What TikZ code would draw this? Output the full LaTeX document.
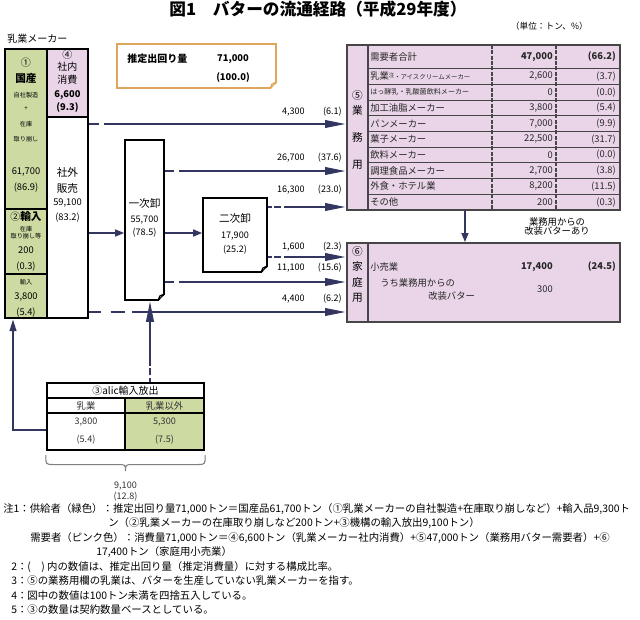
\documentclass[tikz,border=0pt]{standalone}
\usepackage{fontspec}
\setmainfont{Noto Sans CJK JP}
\usetikzlibrary{positioning, arrows.meta, calc, fit}

\definecolor{supgreen}{RGB}{205,219,163}
\definecolor{dempink}{RGB}{233,213,231}
\definecolor{flownavy}{RGB}{50,54,96}
\definecolor{noteorange}{RGB}{222,166,92}
\definecolor{rulegray}{RGB}{70,70,70}

\newcommand{\fsz}[1]{\fontsize{#1}{#1}\selectfont}
% folded corner at the south east of a box
\newcommand{\dogear}[2][black]{%
  \fill[white] ([xshift=-5pt,yshift=-1pt]#2.south east) -- ([xshift=1pt,yshift=-1pt]#2.south east) -- ([xshift=1pt,yshift=5pt]#2.south east) -- cycle;
  \draw[#1, line width=0.8pt, line join=round] ([xshift=-5pt]#2.south east) -- ([yshift=5pt]#2.south east) -- ([xshift=-3.5pt,yshift=3.5pt]#2.south east) -- cycle;
}

\begin{document}
\begin{tikzpicture}[x=0.75pt, y=-0.75pt,
  every node/.style={inner sep=0pt, font=\fsz{7}},
  cell/.style={inner sep=0pt, draw=black, line width=0.8pt},
  flow/.style={draw=flownavy, line width=2pt, -{Triangle[length=16pt,width=5.5pt]}},
  feed/.style={draw=flownavy, line width=1.8pt, -{Triangle[length=7pt,width=5pt]}},
  longlead/.style={dash pattern=on 7pt off 4pt on 400pt},
  shortlead/.style={dash pattern=on 3pt off 2pt on 5pt off 2pt on 400pt},
  tiny/.style={font=\fsz{4.6}},
  qty/.style={font=\fsz{6.8}},
  rowtxt/.style={anchor=west, font=\fsz{7}, text=black!85},
  rownum/.style={anchor=east, font=\fsz{7}, text=black!85},
  note/.style={anchor=west, font=\fsz{7.8}},
]
\useasboundingbox (0,0) rectangle (640,619);

% Title
\node[font=\fsz{12.5}\bfseries] (title) at (318,9) {図1　バターの流通経路（平成29年度）};
\node[font=\fsz{6.5}, anchor=east] (unit) at (588,26) {（単位：トン、\%）};
\node[font=\fsz{7.5}, anchor=west] (makerlbl) at (7,39) {乳業メーカー};

% Supplier column
\node[cell, fill=supgreen, fit={(5,49)(47,209)}] (dom) {};
\node[cell, fill=supgreen, fit={(5,209)(47,274)}] (imp) {};
\node[cell, fill=supgreen, fit={(5,274)(47,318)}] (impb) {};
\node[cell, fill=dempink, fit={(47,49)(88,117)}] (own) {};
\node[cell, fill=white, fit={(47,117)(88,318)}] (sale) {};
\node[draw, line width=1.8pt, fit={(5,49)(88,318)}] (supply) {};
\draw[line width=1.4pt] (dom.south west) -- (dom.south east);

\node[font=\fsz{7.5}] at (26,63) {①};
\node[font=\fsz{8}\bfseries] at (26,78) {国産};
\node[tiny] at (26,95) {自社製造};
\node[tiny] at (26,109) {+};
\node[tiny] at (26,124) {在庫};
\node[tiny] at (26,139) {取り崩し};
\node at (26,172) {61,700};
\node at (26,188) {(86.9)};

\node at (26,216) {{\fsz{7.5}②}{\fsz{8}\bfseries 輸入}};
\node[tiny] at (26,229) {在庫};
\node[tiny] at (26,236) {取り崩し等};
\node at (26,250) {200};
\node at (26,267) {(0.3)};
\node[tiny] at (26,282) {輸入};
\node at (26,297) {3,800};
\node at (26,313) {(5.4)};

\node[font=\fsz{7.5}] at (67.5,55) {④};
\node[font=\fsz{7.5}] at (67.5,67) {社内};
\node[font=\fsz{7.5}] at (67.5,80) {消費};
\node[font=\fsz{7}\bfseries] at (67.5,95) {6,600};
\node[font=\fsz{7}\bfseries] at (67.5,108) {(9.3)};

\node[font=\fsz{8}] at (67.5,172) {社外};
\node[font=\fsz{8}] at (67.5,188) {販売};
\node at (67.5,203) {59,100};
\node at (67.5,218) {(83.2)};

% Estimated total
\node[draw=noteorange, line width=0.9pt, fill=white, fit={(117,44)(276,88)}] (total) {};
\dogear[noteorange]{total}
\node[font=\fsz{7.5}\bfseries, anchor=west] at (127,59) {推定出回り量};
\node[font=\fsz{7}\bfseries] at (233,59) {71,000};
\node[font=\fsz{7}\bfseries] at (233,78) {(100.0)};

% Wholesalers
\node[cell, fill=white, fit={(125,140)(164,300)}] (first) {};
\dogear{first}
\node[font=\fsz{8}] at (144.5,203) {一次卸};
\node[qty] at (144.5,220) {55,700};
\node[qty] at (144.5,233) {(78.5)};

\node[cell, fill=white, fit={(203,198)(267,272)}] (second) {};
\dogear{second}
\node[font=\fsz{8}] at (235,218) {二次卸};
\node[qty] at (235,236) {17,900};
\node[qty] at (235,250) {(25.2)};

% Business users
\node[draw=rulegray, line width=1pt, fill=dempink, fit={(347,45)(620,210)}] (biz) {};
\draw[rulegray, line width=0.8pt] (368,45) -- (368,210);
\draw[rulegray, line width=0.8pt] (368,68.5) -- (620,68.5);
\draw[rulegray, line width=0.6pt] (368,84.2) -- (620,84.2);
\draw[rulegray, line width=0.6pt] (368,99.9) -- (620,99.9);
\draw[rulegray, line width=0.6pt] (368,115.7) -- (620,115.7);
\draw[rulegray, line width=0.6pt] (368,131.4) -- (620,131.4);
\draw[rulegray, line width=0.6pt] (368,147.1) -- (620,147.1);
\draw[rulegray, line width=0.6pt] (368,162.8) -- (620,162.8);
\draw[rulegray, line width=0.6pt] (368,178.6) -- (620,178.6);
\draw[rulegray, line width=0.6pt] (368,194.3) -- (620,194.3);
\draw[rulegray, line width=1pt, dash pattern=on 3pt off 1pt] (492,45) -- (492,210);
\draw[rulegray, line width=1pt, dash pattern=on 3pt off 1pt] (556,45) -- (556,210);

\node[font=\fsz{8}] at (357.5,95) {⑤};
\node[font=\fsz{8}] at (357.5,110) {業};
\node[font=\fsz{8}] at (357.5,137) {務};
\node[font=\fsz{8}] at (357.5,165) {用};

\node[rowtxt] at (370,56.7) {需要者合計};
\node[rownum, font=\fsz{7}\bfseries] at (553,56.7) {47,000};
\node[rownum, font=\fsz{7}\bfseries] at (616,56.7) {(66.2)};
\node[rowtxt] at (370,76.4) {乳業\raisebox{2pt}{\fsz{4}注}{\fsz{4.8}・アイスクリームメーカー}};
\node[rownum] at (553,76.4) {2,600};
\node[rownum] at (616,76.4) {(3.7)};
\node[rowtxt, font=\fsz{5.3}] at (370,92.1) {はっ酵乳・乳酸菌飲料メーカー};
\node[rownum] at (553,92.1) {0};
\node[rownum] at (616,92.1) {(0.0)};
\node[rowtxt] at (370,107.8) {加工油脂メーカー};
\node[rownum] at (553,107.8) {3,800};
\node[rownum] at (616,107.8) {(5.4)};
\node[rowtxt] at (370,123.5) {パンメーカー};
\node[rownum] at (553,123.5) {7,000};
\node[rownum] at (616,123.5) {(9.9)};
\node[rowtxt] at (370,139.3) {菓子メーカー};
\node[rownum] at (553,139.3) {22,500};
\node[rownum] at (616,139.3) {(31.7)};
\node[rowtxt] at (370,155.0) {飲料メーカー};
\node[rownum] at (553,155.0) {0};
\node[rownum] at (616,155.0) {(0.0)};
\node[rowtxt] at (370,170.7) {調理食品メーカー};
\node[rownum] at (553,170.7) {2,700};
\node[rownum] at (616,170.7) {(3.8)};
\node[rowtxt] at (370,186.4) {外食・ホテル業};
\node[rownum] at (553,186.4) {8,200};
\node[rownum] at (616,186.4) {(11.5)};
\node[rowtxt] at (370,202.1) {その他};
\node[rownum] at (553,202.1) {200};
\node[rownum] at (616,202.1) {(0.3)};

% Household use
\node[draw=rulegray, line width=1pt, fill=dempink, fit={(347,243)(620,322)}] (home) {};
\draw[rulegray, line width=0.8pt] (368,243) -- (368,322);
\node[font=\fsz{8}] at (357.5,251) {⑥};
\node[font=\fsz{8}] at (357.5,266) {家};
\node[font=\fsz{8}] at (357.5,282) {庭};
\node[font=\fsz{8}] at (357.5,298) {用};
\node[rowtxt] at (370,267) {小売業};
\node[rownum, font=\fsz{7}\bfseries] at (553,267) {17,400};
\node[rownum, font=\fsz{7}\bfseries] at (616,267) {(24.5)};
\node[rowtxt] at (380,283) {うち業務用からの};
\node[rowtxt] at (428,296) {改装バター};
\node[rownum] at (553,289) {300};

\draw[flownavy, line width=2pt, -{Triangle[length=7pt,width=5pt]}] ([xshift=-13.9pt]biz.south) -- ([xshift=-13.9pt]home.north);
\node[font=\fsz{7}, align=center] at (557,226.5) {\fontsize{7}{8.5}\selectfont 業務用からの\\改装バターあり};

% Flow levels
\coordinate (lv1) at (0,124);
\coordinate (lv2) at (0,171);
\coordinate (lv3) at (0,207);
\coordinate (lv4) at (0,233);
\coordinate (lv5) at (0,257);
\coordinate (lv6) at (0,282);
\coordinate (lv7) at (0,312);

\draw[flow, longlead] (supply.east |- lv1) -- (biz.west |- lv1);
\draw[flow, longlead] (first.east |- lv2) -- (biz.west |- lv2);
\draw[flow, shortlead] (second.east |- lv3) -- (biz.west |- lv3);
\draw[feed] (sale.east |- lv4) -- (first.west |- lv4);
\draw[feed] (first.east |- lv4) -- (second.west |- lv4);
\draw[flow, shortlead] (second.east |- lv5) -- (home.west |- lv5);
\draw[flow, longlead] (first.east |- lv6) -- (home.west |- lv6);
\draw[flow, dash pattern=on 9pt off 7pt on 11pt off 5pt on 400pt] (supply.east |- lv7) -- (home.west |- lv7);

\node[qty, anchor=east] at (305,112) {4,300};
\node[qty, anchor=east] at (342,112) {(6.1)};
\node[qty, anchor=east] at (305,158) {26,700};
\node[qty, anchor=east] at (342,158) {(37.6)};
\node[qty, anchor=east] at (305,190) {16,300};
\node[qty, anchor=east] at (342,190) {(23.0)};
\node[qty, anchor=east] at (305,247) {1,600};
\node[qty, anchor=east] at (342,247) {(2.3)};
\node[qty, anchor=east] at (305,268) {11,100};
\node[qty, anchor=east] at (342,268) {(15.6)};
\node[qty, anchor=east] at (305,299) {4,400};
\node[qty, anchor=east] at (342,299) {(6.2)};

% alic import release
\node[cell, line width=1.2pt, fill=white, fit={(47,383)(204,398)}] (alichead) {};
\node[cell, line width=1.2pt, fill=white, fit={(47,398)(125,413)}] (dairyhead) {};
\node[cell, line width=1.2pt, fill=supgreen, fit={(125,398)(204,413)}] (otherhead) {};
\node[cell, line width=1.2pt, fill=white, fit={(47,413)(125,450)}] (dairyval) {};
\node[cell, line width=1.2pt, fill=supgreen, fit={(125,413)(204,450)}] (otherval) {};
\node[draw, line width=1.8pt, fit={(47,383)(204,450)}] (alic) {};
\node[font=\fsz{7.5}] at (125.5,391) {③alic輸入放出};
\node[text=black!80] at (86,405.5) {乳業};
\node[text=black!80] at (164.5,405.5) {乳業以外};
\node[qty, text=black!80] at (86,422) {3,800};
\node[qty, text=black!80] at (86,440) {(5.4)};
\node[qty, text=black!80] at (164.5,422) {5,300};
\node[qty, text=black!80] at (164.5,440) {(7.5)};

\coordinate (upcol) at (150,0);
\draw[flow, shortlead] (alic.north -| upcol) -- (first.south -| upcol);
\coordinate (bend) at (13,430);
\draw[draw=flownavy, line width=1.6pt, -{Triangle[length=9pt,width=5pt]}] (alic.west |- bend) -- (bend) -- (bend |- supply.south);

% brace under the alic box
\draw[black!50, line width=0.8pt] ([yshift=-3pt]alic.south west) .. controls ([yshift=-10pt]alic.south west) .. ([xshift=6pt,yshift=-10pt]alic.south west)
  -- ([xshift=-6pt,yshift=-10pt]alic.south) .. controls ([yshift=-10pt]alic.south) .. ([yshift=-15pt]alic.south)
  .. controls ([yshift=-10pt]alic.south) .. ([xshift=6pt,yshift=-10pt]alic.south)
  -- ([xshift=-6pt,yshift=-10pt]alic.south east) .. controls ([yshift=-10pt]alic.south east) .. ([yshift=-3pt]alic.south east);
\node[qty, text=black!80] at (125.5,486) {9,100};
\node[qty, text=black!80] at (125.5,497) {(12.8)};

% Notes
\node[note] (n1) at (3,509) {注1：供給者（緑色）：推定出回り量71,000トン＝国産品61,700トン（①乳業メーカーの自社製造+在庫取り崩しなど）+輸入品9,300ト};
\node[note] (n1b) at (108,523) {ン（②乳業メーカーの在庫取り崩しなど200トン+③機構の輸入放出9,100トン）};
\node[note] (n1c) at (30,538) {需要者（ピンク色）：消費量71,000トン＝④6,600トン（乳業メーカー社内消費）+⑤47,000トン（業務用バター需要者）+⑥};
\node[note] (n1d) at (96,552) {17,400トン（家庭用小売業）};
\node[note] (n2) at (11,567) {2：(　) 内の数値は、推定出回り量（推定消費量）に対する構成比率。};
\node[note] (n3) at (11,581) {3：⑤の業務用欄の乳業は、バターを生産していない乳業メーカーを指す。};
\node[note] (n4) at (11,596) {4：図中の数値は100トン未満を四捨五入している。};
\node[note] (n5) at (11,610) {5：③の数量は契約数量ベースとしている。};
\end{tikzpicture}
\end{document}
